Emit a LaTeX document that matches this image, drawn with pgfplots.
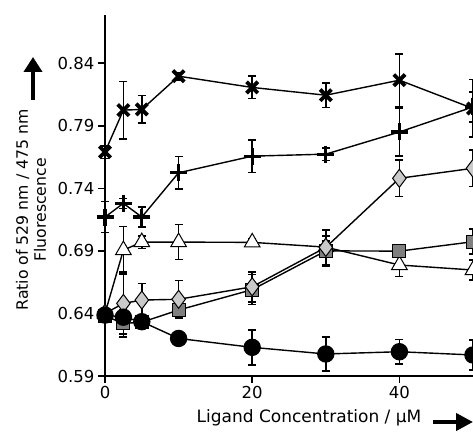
\documentclass[border=0pt]{standalone}
\usepackage{pgfplots}
\pgfplotsset{compat=1.18}
\usepackage{fontspec}
\setmainfont{DejaVu Sans}
\usetikzlibrary{arrows.meta}
\definecolor{dgray}{HTML}{7F7F7F}
\definecolor{lgray}{HTML}{CACACA}
\newcommand{\tickfont}{\fontsize{16.5}{19}\selectfont}
\newcommand{\xlabfont}{\fontsize{17}{20}\selectfont}
\newcommand{\ylabfont}{\fontsize{15.7}{18}\selectfont}
\begin{document}
\begin{tikzpicture}[x=1pt,y=1pt, font=\tickfont]
\useasboundingbox (0,0) rectangle (473,436);
\fill[white] (0,0) rectangle (473,436);
\clip (0,0) rectangle (473,436);
\begin{axis}[at={(105pt,60pt)}, anchor=south west, scale only axis,
  width=368pt, height=361pt, xmin=0, xmax=50, ymin=0.59, ymax=0.8785,
  axis x line=bottom, axis y line=left,
  axis line style={-, line width=1.6pt},
  xtick={0,20,40}, ytick={0.59,0.64,0.69,0.74,0.79,0.84},
  yticklabel style={/pgf/number format/fixed, /pgf/number format/fixed zerofill, /pgf/number format/precision=2},
  tick label style={font=\tickfont},
  /pgf/number format/assume math mode=true,
  tick style={black, line width=1.6pt}, major tick length=7pt, tick align=outside,
  clip=false,
  error bars/error bar style={line width=1.5pt, solid},
  error bars/error mark options={rotate=90, mark size=4pt, line width=1.5pt},
  every axis plot/.append style={black, line width=1.4pt},
]
\addplot[mark=x, mark size=8pt, mark options={line width=3.8pt},
  error bars/.cd, y dir=both, y explicit]
  table[x=x, y=y, y error=e] {
x y e
0 0.769 0.005
2.5 0.8025 0.023
5 0.803 0.011
10 0.8296 0.003
20 0.8206 0.009
30 0.8144 0.0098
40 0.8264 0.021
50 0.8038 0.023
};
\addplot[mark=+, mark size=8.5pt, mark options={line width=3.2pt},
  error bars/.cd, y dir=both, y explicit]
  table[x=x, y=y, y error=e] {
x y e
0 0.717 0.0125
2.5 0.728 0.004
5 0.717 0.008
10 0.7524 0.013
20 0.7657 0.013
30 0.7673 0.005
40 0.785 0.019
50 0.805 0.012
};
\addplot[mark=triangle*, mark size=9pt, mark options={fill=white, line width=1pt},
  error bars/.cd, y dir=both, y explicit]
  table[x=x, y=y, y error=e] {
x y e
0 0.640 0.003
2.5 0.6906 0.019
5 0.697 0.005
10 0.697 0.014
20 0.6968 0.003
30 0.693 0.005
40 0.6787 0.009
50 0.6747 0.008
};
\addplot[mark=square*, mark size=6.5pt, mark options={fill=dgray, line width=1pt},
  error bars/.cd, y dir=both, y explicit]
  table[x=x, y=y, y error=e] {
x y e
0 0.638 0.003
2.5 0.632 0.011
5 0.633 0.004
10 0.6427 0.006
20 0.659 0.012
30 0.690 0.012
40 0.6898 0.004
50 0.6973 0.010
};
\addplot[mark=diamond*, mark size=9pt, mark options={fill=lgray, line width=1pt},
  error bars/.cd, y dir=both, y explicit]
  table[x=x, y=y, y error=e] {
x y e
0 0.640 0.003
2.5 0.648 0.025
5 0.6507 0.0134
10 0.6513 0.015
20 0.6613 0.012
30 0.6928 0.014
40 0.748 0.0145
50 0.756 0.0145
};
\addplot[mark=*, mark size=8pt, mark options={fill=black},
  error bars/.cd, y dir=both, y explicit]
  table[x=x, y=y, y error=e] {
x y e
0 0.6387 0.003
2.5 0.637 0.013
5 0.6334 0.004
10 0.620 0.003
20 0.6129 0.014
30 0.6076 0.0137
40 0.6094 0.0097
50 0.6068 0.012
};
\end{axis}
\node[rotate=90, align=center, inner sep=0pt, font=\ylabfont] at (31,226) {Ratio of 529 nm / 475 nm\\Fluorescence};
\draw[line width=4pt, -{Triangle[length=15pt,width=18pt]}] (33,336) -- (33,379);
\node[inner sep=0pt, font=\xlabfont] at (309,18) {Ligand Concentration / μM};
\draw[line width=4pt, -{Triangle[length=17pt,width=17pt]}] (433,14) -- (473,14);
\end{tikzpicture}
\end{document}
